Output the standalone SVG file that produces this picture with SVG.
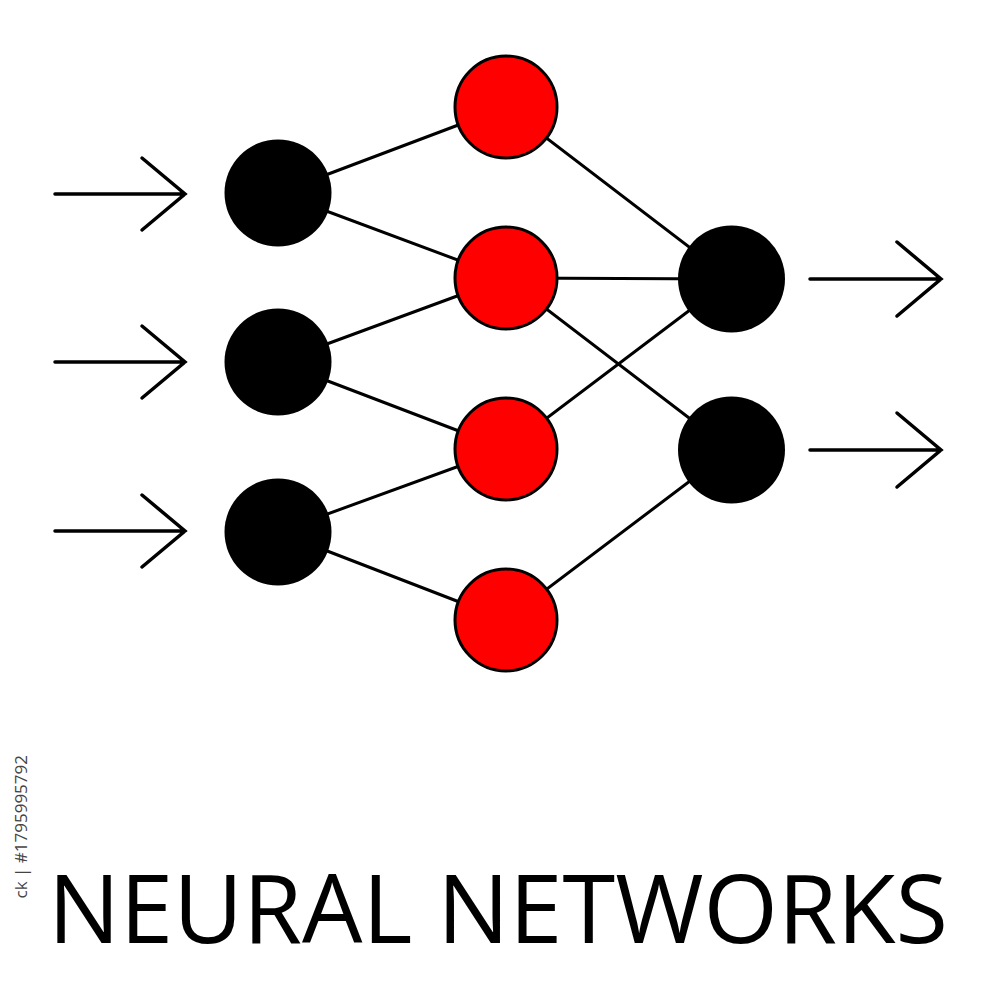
<svg xmlns="http://www.w3.org/2000/svg" width="1000" height="1000" viewBox="0 0 1000 1000">
  <style>
    .edge { stroke: #000; stroke-width: 3; fill: none; stroke-linecap: round; }
    .arrow { stroke: #000; stroke-width: 3.5; fill: none; stroke-linecap: round; stroke-linejoin: miter; }
    .black { fill: #000; }
    .red { fill: #ff0000; stroke: #000; stroke-width: 3; }
    .title { font-family: "Open Sans", "Liberation Sans", sans-serif; font-size: 95px; fill: #000; }
    .mark { font-family: "Open Sans", "Liberation Sans", sans-serif; font-size: 17px; fill: #444; }
  </style>
  <rect width="1000" height="1000" fill="#fff"/>

  <g id="connectors">
    <line class="edge" x1="278" y1="193" x2="506" y2="107"/>
    <line class="edge" x1="278" y1="193" x2="506" y2="278"/>
    <line class="edge" x1="278" y1="362" x2="506" y2="278"/>
    <line class="edge" x1="278" y1="362" x2="506" y2="449"/>
    <line class="edge" x1="278" y1="532" x2="506" y2="449"/>
    <line class="edge" x1="278" y1="532" x2="506" y2="620"/>
    <line class="edge" x1="506" y1="107" x2="731" y2="279"/>
    <line class="edge" x1="506" y1="278" x2="731" y2="279"/>
    <line class="edge" x1="506" y1="278" x2="731" y2="450"/>
    <line class="edge" x1="506" y1="449" x2="731" y2="279"/>
    <line class="edge" x1="506" y1="620" x2="731" y2="450"/>
    <path class="arrow" d="M55,194 H185 M142,158 L185,194 L142,230"/>
    <path class="arrow" d="M55,362 H185 M142,326 L185,362 L142,398"/>
    <path class="arrow" d="M55,531 H185 M142,495 L185,531 L142,567"/>
    <path class="arrow" d="M810,279 H941 M897,242 L941,279 L897,316"/>
    <path class="arrow" d="M810,450 H941 M897,413 L941,450 L897,487"/>
  </g>

  <g id="in1"><circle class="black" cx="278" cy="193" r="53.5"/></g>
  <g id="in2"><circle class="black" cx="278" cy="362" r="53.5"/></g>
  <g id="in3"><circle class="black" cx="278" cy="532" r="53.5"/></g>

  <g id="h1"><circle class="red" cx="506" cy="107" r="51"/></g>
  <g id="h2"><circle class="red" cx="506" cy="278" r="51"/></g>
  <g id="h3"><circle class="red" cx="506" cy="449" r="51"/></g>
  <g id="h4"><circle class="red" cx="506" cy="620" r="51"/></g>

  <g id="out1"><circle class="black" cx="731.5" cy="279" r="53.5"/></g>
  <g id="out2"><circle class="black" cx="731.5" cy="450" r="53.5"/></g>

  <text class="title" x="48" y="943" textLength="900" lengthAdjust="spacingAndGlyphs">NEURAL NETWORKS</text>
  <text class="mark" transform="translate(27,755) rotate(-90)" text-anchor="end">ck | #1795995792</text>
</svg>
